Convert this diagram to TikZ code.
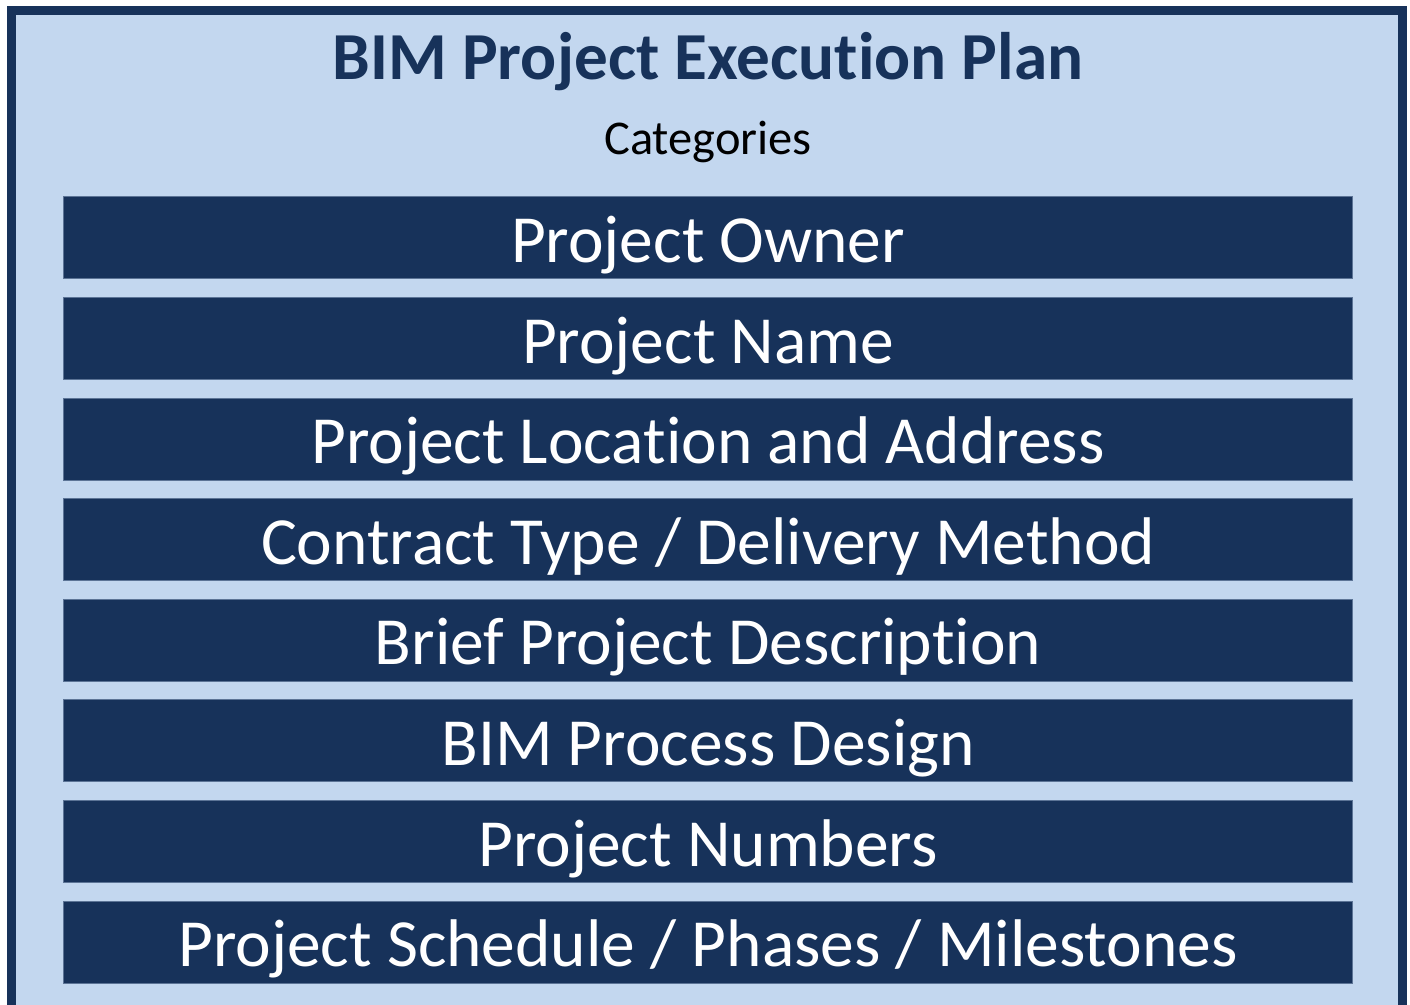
\documentclass[tikz,border=0pt]{standalone}
\usepackage{fontspec}
\setmainfont{Carlito}[Ligatures=NoCommon]
\usepackage{tikz}
\usetikzlibrary{positioning}
\definecolor{navy}{HTML}{17325A}
\definecolor{paleblue}{HTML}{C3D7EF}

\begin{document}
\begin{tikzpicture}[x=1pt, y=-1pt,
      bar/.style={rectangle, fill=navy, draw=navy!60!paleblue, thin, text=white, minimum width=1289pt, minimum height=82pt, inner sep=0pt, text height=50pt, text depth=0pt, font=\fontsize{67.4}{78}\selectfont},
      frame/.style={draw=navy, fill=paleblue, line width=9pt},
      node distance=18.2pt,
    ]
    \useasboundingbox (0,0) rectangle (1410,1004);
    \draw[frame] (11.5,10.5) rectangle (1402.5,1010);

    % Heading
    \node[anchor=base, text=navy, font=\bfseries\fontsize{67.2}{78}\selectfont] (title) at (708,79) {BIM Project Execution Plan};
    \node[anchor=base, font=\fontsize{48.5}{58}\selectfont] (cats) at (708,154) {Categories};

    % Bars
    \node[bar] (owner) at (708,237.5) {Project Owner};
    \node[bar] (name) [below=of owner] {Project Name};
    \node[bar] (location) [below=of name] {Project Location and Address};
    \node[bar] (contract) [below=of location] {Contract Type / Delivery Method};
    \node[bar] (brief) [below=of contract] {Brief Project Description};
    \node[bar] (process) [below=of brief] {BIM Process Design};
    \node[bar] (numbers) [below=of process] {Project Numbers};
    \node[bar] (schedule) [below=of numbers] {Project Schedule / Phases / Milestones};
  \end{tikzpicture}
\end{document}
